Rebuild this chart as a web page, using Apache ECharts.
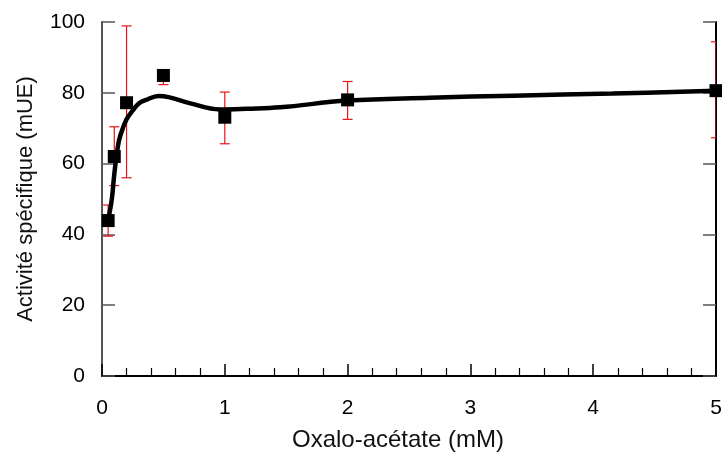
<!DOCTYPE html>
<html><head><meta charset="utf-8">
<script src="https://cdn.jsdelivr.net/npm/echarts@6/dist/echarts.min.js"></script>
<style>html,body{margin:0;padding:0;background:#fff}#c{width:722px;height:453px}</style>
</head><body><div id="c"></div>
<script>
// Measured points
var concentrations = [0.05, 0.1, 0.2, 0.5, 1, 2, 5];
var activity = [43.9, 62, 77.2, 84.9, 73.1, 78, 80.6];
var errLow = [39.5, 53.8, 56, 82.3, 65.6, 72.5, 67.3];
var errHigh = [48.3, 70.4, 98.9, 86.3, 80.2, 83.2, 94.4];
// Fitted curve
var fitX = [0.05, 0.08, 0.1, 0.13, 0.15, 0.2, 0.25, 0.3, 0.36, 0.46, 0.55, 0.72, 0.96, 1.18, 1.45, 2, 2.67, 3.35, 4.16, 5];
var fitY = [44, 50, 57, 65, 68, 72.5, 75, 77, 78, 79.1, 78.7, 77, 75.3, 75.5, 75.9, 77.8, 78.6, 79.2, 79.8, 80.6];
var xTicks = [0, 1, 2, 3, 4, 5];
var yTicks = [0, 20, 40, 60, 80, 100];

var font = '"Liberation Sans", Arial, sans-serif';
var chart = echarts.init(document.getElementById('c'));
var pts = concentrations.map(function (x, i) { return [x, activity[i]]; });
var errs = concentrations.map(function (x, i) { return [x, errLow[i], errHigh[i]]; });
var fit = fitX.map(function (x, i) { return [x, fitY[i]]; });

chart.setOption({
  animation: false,
  grid: { left: 102, right: 6, top: 22, bottom: 77, containLabel: false, outerBoundsMode: 'none' },
  xAxis: {
    type: 'value', min: xTicks[0], max: xTicks[xTicks.length - 1], interval: 1,
    name: 'Oxalo-acétate (mM)', nameLocation: 'middle', nameGap: 52,
    nameTextStyle: { fontFamily: font, fontSize: 24, color: '#111', padding: [0, 22, 0, 0] },
    axisLine: { lineStyle: { color: '#000', width: 2 } },
    axisTick: { inside: true, length: 12, lineStyle: { color: '#000', width: 1.5 } },
    minorTick: { show: true, splitNumber: 5, length: 8, lineStyle: { color: '#000', width: 1.2 } },
    axisLabel: { margin: 22, fontFamily: font, fontSize: 21, color: '#000' },
    splitLine: { show: false }
  },
  yAxis: [{
    type: 'value', min: yTicks[0], max: yTicks[yTicks.length - 1], interval: 20,
    name: 'Activité spécifique (mUE)', nameLocation: 'middle', nameGap: 65,
    nameTextStyle: { fontFamily: font, fontSize: 22, color: '#111' },
    axisLine: { show: true, lineStyle: { color: '#555', width: 2 } },
    axisTick: { show: true, inside: true, length: 13, lineStyle: { color: '#555', width: 1.5 } },
    axisLabel: { margin: 17, fontFamily: font, fontSize: 21, color: '#000' },
    splitLine: { show: false }
  }, {
    type: 'value', min: yTicks[0], max: yTicks[yTicks.length - 1], interval: 20, position: 'right',
    axisLine: { show: true, lineStyle: { color: '#000', width: 2 } },
    axisTick: { show: true, inside: true, length: 13, lineStyle: { color: '#555', width: 1.5 } },
    axisLabel: { show: false },
    splitLine: { show: false }
  }],
  series: [{
    type: 'custom',
    data: errs,
    clip: true,
    z: 2,
    renderItem: function (params, api) {
      var x = api.value(0);
      var lo = api.coord([x, api.value(1)]);
      var hi = api.coord([x, api.value(2)]);
      var hw = 5;
      var st = { stroke: '#e8141c', lineWidth: 1.2 };
      return { type: 'group', children: [
        { type: 'line', shape: { x1: lo[0], y1: lo[1], x2: hi[0], y2: hi[1] }, style: st },
        { type: 'line', shape: { x1: lo[0] - hw, y1: lo[1], x2: lo[0] + hw, y2: lo[1] }, style: st },
        { type: 'line', shape: { x1: hi[0] - hw, y1: hi[1], x2: hi[0] + hw, y2: hi[1] }, style: st }
      ] };
    }
  }, {
    type: 'line', data: fit, smooth: 0.4, showSymbol: false, z: 3,
    lineStyle: { color: '#000', width: 4.5 }
  }, {
    type: 'scatter', data: pts, symbol: 'rect', symbolSize: 13, z: 4, clip: false,
    itemStyle: { color: '#000', opacity: 1 }
  }]
});
</script></body></html>
